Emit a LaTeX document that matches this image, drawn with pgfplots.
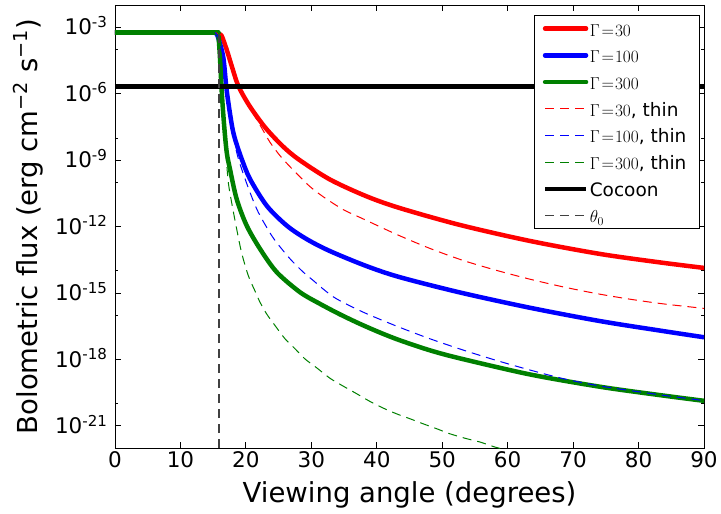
\documentclass[border=0pt]{standalone}
\usepackage{fontspec}
\setmainfont{DejaVu Sans}
\usepackage{pgfplots}
\pgfplotsset{compat=1.18}
\definecolor{mplgreen}{rgb}{0,0.5,0}
\newcommand{\ls}{\rule[-3.5pt]{0pt}{20pt}}
\newcommand{\G}[1]{$\Gamma\mkern2mu{=}\mkern1mu#1$}
\pgfplotsset{
  thick line/.style={#1, line width=4.5pt, line join=round, line cap=round},
  thin line/.style={#1, line width=1pt, dash pattern=on 9pt off 6pt},
}
\begin{document}
\begin{tikzpicture}
\begin{axis}[
  scale only axis, width=589pt, height=443pt,
  xmin=0, xmax=90, ymode=log, log basis y=10, ymin=1e-22, ymax=1e-2,
  xtick={0,10,...,90},
  ytick={1e-21,1e-18,1e-15,1e-12,1e-9,1e-6,1e-3},
  minor ytick={1e-22,1e-20,1e-16,1e-14,1e-10,1e-8,1e-4,1e-2},
  /pgf/number format/assume math mode=true,
  yticklabel={10\textsuperscript{\pgfmathparse{int(round(\tick))}\pgfmathresult}},
  tick label style={font=\fontsize{21.5}{25}\selectfont},
  yticklabel style={anchor=base east, yshift=-7.7pt, xshift=-4pt},
  major tick length=6pt, minor tick length=3.5pt,
  tick style={line width=0.8pt, black},
  axis line style={line width=0.9pt},
  xlabel={Viewing angle (degrees)},
  ylabel={Bolometric flux (erg cm\textsuperscript{−2} s\textsuperscript{−1})},
  label style={font=\fontsize{27.5}{32}\selectfont},
  xlabel style={at={(axis description cs:0.5,-0.124)}, anchor=base},
  ylabel style={at={(axis description cs:-0.1324,0.5)}, anchor=base},
  legend style={at={(0.993,0.977)}, anchor=north east, draw=black, line width=0.8pt,
    font=\fontsize{18.5}{21}\selectfont, row sep=5.7pt, inner xsep=8pt, inner ysep=2.5pt,
    nodes={inner sep=1.5pt}},
  legend cell align=left,
  legend image code/.code={\draw[#1, line cap=butt] (0pt,0pt) -- (30pt,0pt); \path (0pt,0pt) -- (41pt,0pt);},
]
% Gamma=30 thick
\addplot[thick line=red, forget plot] coordinates {(0,5.75e-4) (15.3,5.75e-4)};
\addplot[thick line=red, smooth, tension=0.5] coordinates {
(15.3,5.75e-4) (15.89,4.79e-4) (16.30,4.07e-4) (17.07,9.55e-5) (17.83,1.78e-5)
(18.84,2.24e-6) (20.37,3.39e-7) (22.16,5.89e-8) (23.5,1.91e-8) (25.72,3.98e-9) (28.1,1.05e-9)
(32.85,1.32e-10) (38.46,2.29e-11) (43.55,6.76e-12) (52.72,1.17e-12) (63.42,2.22e-13)
(74.11,5.77e-14) (83.28,2.39e-14) (90,1.35e-14)};
\addlegendentry{\ls\G{30}}
% Gamma=100 thick
\addplot[thick line=blue, forget plot] coordinates {(0,5.75e-4) (15.3,5.75e-4)};
\addplot[thick line=blue, smooth, tension=0.5] coordinates {
(15.3,5.75e-4) (15.54,4.79e-4) (15.79,3.16e-4) (16.55,4.27e-5) (17.07,1.35e-6)
(17.83,4.17e-8) (18.34,8.91e-9) (19.36,1.12e-9) (20.63,1.39e-10) (23.18,8.71e-12)
(26.24,1.10e-12) (29.29,2.69e-13) (32.85,7.76e-14) (38.46,1.62e-14) (43.55,5.13e-15)
(52.72,1.05e-15) (63.42,2.14e-16) (74.11,5.37e-17) (83.28,2.0e-17) (90,1.0e-17)};
\addlegendentry{\ls\G{100}}
% Gamma=300 thick
\addplot[thick line=mplgreen, forget plot] coordinates {(0,5.75e-4) (15.79,5.75e-4)};
\addplot[thick line=mplgreen, smooth, tension=0.5] coordinates {
(15.79,5.75e-4) (16.04,4.27e-5) (16.30,1.35e-6) (16.66,4.17e-8) (17.07,2.24e-9)
(17.57,3.89e-10) (18.59,1.74e-11) (20.12,1.10e-12) (22.16,9.77e-14) (24.71,8.71e-15)
(28.27,1.08e-15) (31.33,3.21e-16) (34.38,1.08e-16) (37.44,4.01e-17) (40.49,1.63e-17)
(43.55,7.24e-18) (48.14,2.56e-18) (52.72,1.11e-18) (63.42,2.09e-19) (74.11,5.83e-20)
(83.28,2.44e-20) (90,1.35e-20)};
\addlegendentry{\ls\G{300}}
% Gamma=30 thin
\addplot[thin line=red, forget plot] coordinates {(0,5.75e-4) (15.3,5.75e-4)};
\addplot[thin line=red, smooth, tension=0.5] coordinates {
(15.3,5.75e-4) (15.89,4.79e-4) (16.30,4.07e-4) (17.07,9.55e-5) (17.83,2.00e-5)
(18.84,2.40e-6) (20.37,3.02e-7) (22.16,3.80e-8) (23.69,6.31e-9) (25.21,1.58e-9)
(26.74,5.01e-10) (28.27,1.74e-10) (29.80,6.31e-11) (31.83,2.19e-11) (34.9,5.75e-12)
(37.94,2.19e-12) (43.05,4.37e-13) (48.14,1.02e-13) (53.22,2.92e-14) (58.33,1.04e-14)
(63.42,4.17e-15) (68.51,1.87e-15) (73.61,9.33e-16) (78.70,5.22e-16) (83.79,3.21e-16)
(90,2.01e-16)};
\addlegendentry{\ls\G{30}, thin}
% Gamma=100 thin
\addplot[thin line=blue, forget plot] coordinates {(0,5.75e-4) (15.3,5.75e-4)};
\addplot[thin line=blue, smooth, tension=0.5] coordinates {
(15.3,5.75e-4) (15.54,4.79e-4) (15.79,3.16e-4) (16.55,3.98e-5) (17.07,1.26e-6)
(17.83,3.16e-8) (18.59,2.24e-9) (19.36,3.89e-10) (20.63,3.47e-11) (21.90,4.37e-12)
(23.94,3.89e-13) (25.47,9.77e-14) (27.00,2.88e-14) (28.77,8.71e-15) (30.30,3.63e-15)
(32.09,1.29e-15) (33.88,5.37e-16) (37.94,1.35e-16) (43.05,3.16e-17) (48.14,8.51e-18)
(53.22,2.63e-18) (58.33,8.91e-19) (63.42,3.31e-19) (68.51,1.35e-19) (74.11,6.31e-20)
(83.28,2.51e-20) (90,1.38e-20)};
\addlegendentry{\ls\G{100}, thin}
% Gamma=300 thin
\addplot[thin line=mplgreen, forget plot] coordinates {(0,5.75e-4) (15.79,5.75e-4)};
\addplot[thin line=mplgreen, smooth, tension=0.5] coordinates {
(15.79,5.75e-4) (16.04,4.27e-5) (16.30,1.35e-6) (16.66,3.16e-8) (16.95,2.0e-9)
(17.31,1.0e-10) (17.82,1.23e-11) (18.59,7.76e-13) (19.36,6.31e-14) (20.37,6.03e-15)
(21.39,1.23e-15) (22.16,3.80e-16) (23.18,1.12e-16) (24.45,3.39e-17) (25.98,8.51e-18)
(27.51,3.02e-18) (29.03,1.05e-18) (30.82,4.17e-19) (32.85,1.41e-19) (34.89,6.17e-20)
(36.93,2.82e-20) (38.97,1.26e-20) (41.00,6.31e-21) (43.05,3.47e-21) (45.08,2.09e-21)
(47.11,1.23e-21) (49.16,7.41e-22) (51.19,4.37e-22) (53.74,2.63e-22) (55.78,1.86e-22)
(58.07,1.10e-22) (60,7.94e-23) (65,3.55e-23)};
\addlegendentry{\ls\G{300}, thin\hspace*{3.5pt}}
% Cocoon
\addplot[black, line width=4.5pt] coordinates {(0,2.1e-6) (90,2.1e-6)};
\addlegendentry{\ls Cocoon}
% theta_0
\addplot[black!75, line width=1.2pt, dash pattern=on 9pt off 6pt] coordinates {(15.9,1e-22) (15.9,5.75e-4)};
\addlegendentry{\ls$\theta_0$}
\end{axis}
\pgfresetboundingbox
\path[use as bounding box] ([shift={(-115pt,-65pt)}]current axis.south west) rectangle ([shift={(17pt,5pt)}]current axis.north east);
\end{tikzpicture}
\end{document}
